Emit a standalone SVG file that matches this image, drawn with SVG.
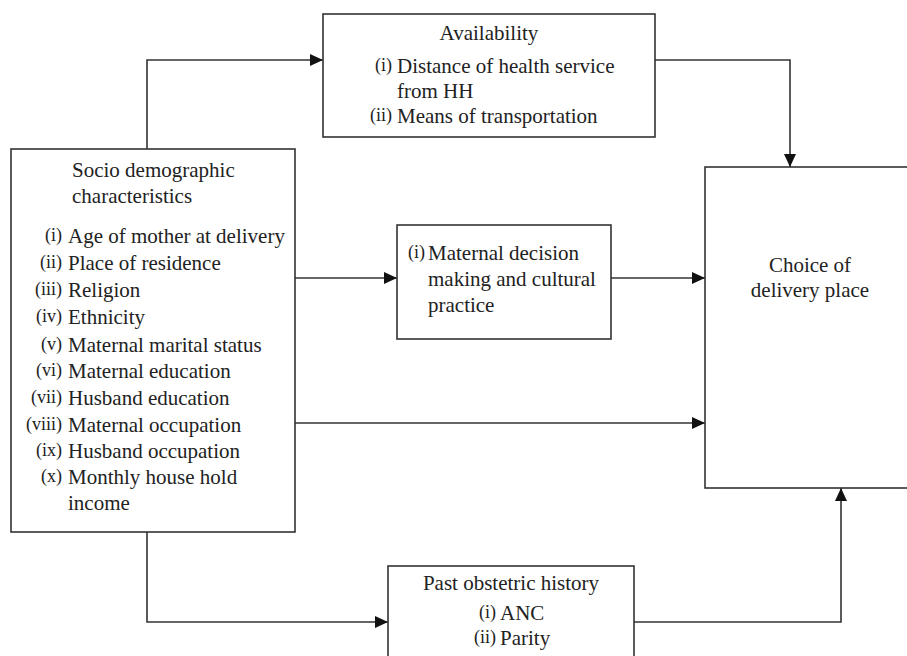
<svg xmlns="http://www.w3.org/2000/svg" width="907" height="656" viewBox="0 0 907 656">
<defs>
<marker id="arr" markerWidth="13" markerHeight="12" refX="13" refY="6" orient="auto" markerUnits="userSpaceOnUse">
<path d="M0,0 L13,6 L0,12 Z" fill="#111"/>
</marker>
<style>
.box{fill:#fff;stroke:#333;stroke-width:1.6}
.t{font-family:'Liberation Serif','DejaVu Serif','Times New Roman',serif;font-size:21px;fill:#222}
.n{font-family:'Liberation Serif','DejaVu Serif','Times New Roman',serif;font-size:18px;fill:#222;text-anchor:end}
.c{text-anchor:middle}
.ln{fill:none;stroke:#333;stroke-width:1.6}
</style>
</defs>
<rect width="907" height="656" fill="#fff"/>
<g id="connectors">
<path class="ln" d="M147,149 V60 H323" marker-end="url(#arr)"/>
<path class="ln" d="M655,60 H790 V167" marker-end="url(#arr)"/>
<path class="ln" d="M295,278 H397" marker-end="url(#arr)"/>
<path class="ln" d="M611,278 H705" marker-end="url(#arr)"/>
<path class="ln" d="M295,423 H705" marker-end="url(#arr)"/>
<path class="ln" d="M147,532 V622 H388" marker-end="url(#arr)"/>
<path class="ln" d="M634,622 H841 V488" marker-end="url(#arr)"/>
</g>
<g id="socio">
<rect class="box" x="11" y="149" width="284" height="383"/>
<text class="t" x="72" y="177">Socio demographic</text>
<text class="t" x="72" y="203">characteristics</text>
<text class="n" x="62" y="241">(i)</text><text class="t" x="68" y="243">Age of mother at delivery</text>
<text class="n" x="62" y="268">(ii)</text><text class="t" x="68" y="270">Place of residence</text>
<text class="n" x="62" y="295">(iii)</text><text class="t" x="68" y="297">Religion</text>
<text class="n" x="62" y="322">(iv)</text><text class="t" x="68" y="324">Ethnicity</text>
<text class="n" x="62" y="350">(v)</text><text class="t" x="68" y="352">Maternal marital status</text>
<text class="n" x="62" y="376">(vi)</text><text class="t" x="68" y="378">Maternal education</text>
<text class="n" x="62" y="403">(vii)</text><text class="t" x="68" y="405">Husband education</text>
<text class="n" x="62" y="430">(viii)</text><text class="t" x="68" y="432">Maternal occupation</text>
<text class="n" x="62" y="456">(ix)</text><text class="t" x="68" y="458">Husband occupation</text>
<text class="n" x="62" y="482">(x)</text><text class="t" x="68" y="484">Monthly house hold</text>
<text class="t" x="68" y="510">income</text>
</g>
<g id="availability">
<rect class="box" x="323" y="14" width="332" height="123"/>
<text class="t c" x="489" y="40">Availability</text>
<text class="n" x="392" y="71">(i)</text><text class="t" x="397" y="73">Distance of health service</text>
<text class="t" x="397" y="98">from HH</text>
<text class="n" x="392" y="121">(ii)</text><text class="t" x="397" y="123">Means of transportation</text>
</g>
<g id="maternal">
<rect class="box" x="397" y="225" width="214" height="114"/>
<text class="n" x="425" y="258">(i)</text><text class="t" x="428" y="260">Maternal decision</text>
<text class="t" x="428" y="286">making and cultural</text>
<text class="t" x="428" y="312">practice</text>
</g>
<g id="choice">
<rect class="box" x="705" y="167" width="210" height="321"/>
<text class="t c" x="810" y="272">Choice of</text>
<text class="t c" x="810" y="297">delivery place</text>
</g>
<g id="past">
<rect class="box" x="388" y="566" width="246" height="100"/>
<text class="t c" x="511" y="590">Past obstetric history</text>
<text class="n" x="496" y="618">(i)</text><text class="t" x="500" y="620">ANC</text>
<text class="n" x="496" y="643">(ii)</text><text class="t" x="500" y="645">Parity</text>
</g>
</svg>
